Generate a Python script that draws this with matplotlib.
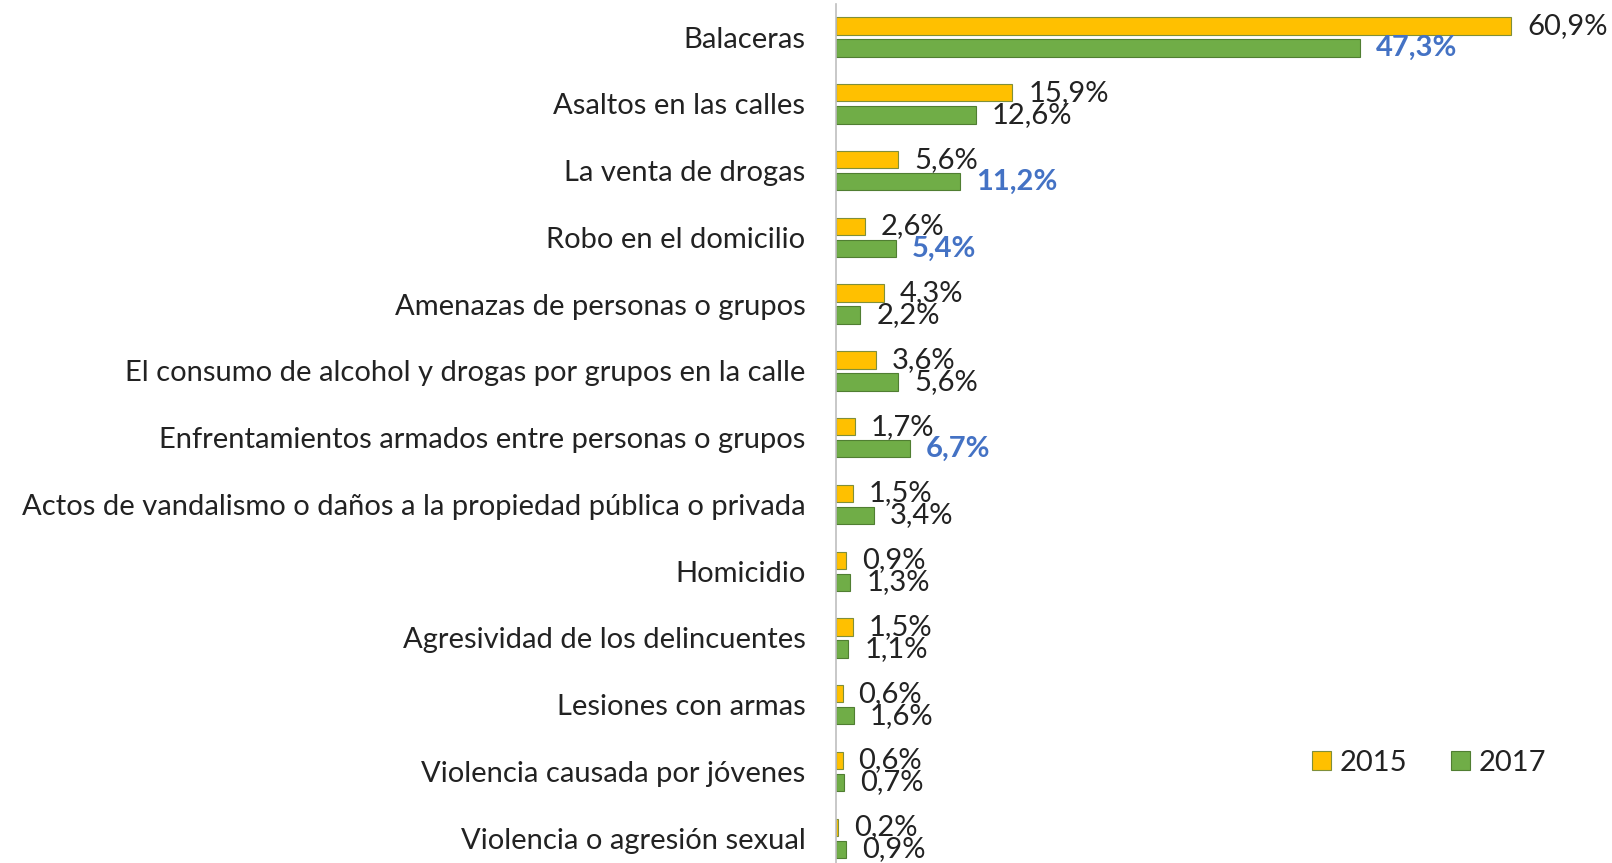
import matplotlib
matplotlib.use("Agg")
import matplotlib.pyplot as plt
import numpy as np

categories = [
    "Balaceras",
    "Asaltos en las calles",
    "La venta de drogas",
    "Robo en el domicilio",
    "Amenazas de personas o grupos",
    "El consumo de alcohol y drogas por grupos en la calle",
    "Enfrentamientos armados entre personas o grupos",
    "Actos de vandalismo o daños a la propiedad pública o privada",
    "Homicidio",
    "Agresividad de los delincuentes",
    "Lesiones con armas",
    "Violencia causada por jóvenes",
    "Violencia o agresión sexual",
]
v2015 = [60.9, 15.9, 5.6, 2.6, 4.3, 3.6, 1.7, 1.5, 0.9, 1.5, 0.6, 0.6, 0.2]
v2017 = [47.3, 12.6, 11.2, 5.4, 2.2, 5.6, 6.7, 3.4, 1.3, 1.1, 1.6, 0.7, 0.9]
highlight_2017 = [True, False, True, True, False, False, True, False, False, False, False, False, False]

plt.rcParams['font.family'] = ['Lato', 'DejaVu Sans']

fig = plt.figure(figsize=(16.12, 8.63), dpi=100)
ax = fig.add_axes([836/1612, 0, 776/1612, 1 - 4/863])

y = np.arange(len(categories))
off = 0.165
h = 0.26
yellow = '#FFC000'
green = '#70AD47'
ax.barh(y - off, v2015, height=h, color=yellow, edgecolor='#7f8f3a', linewidth=0.8, label='2015')
ax.barh(y + off, v2017, height=h, color=green, edgecolor='#507E32', linewidth=0.8, label='2017')

fs = 21
txtc = '#222222'
def fmt(v):
    return f"{v:.1f}%".replace('.', ',')

for i, v in enumerate(v2015):
    ax.annotate(fmt(v), (v, i - off), xytext=(11.5, 0),
                textcoords='offset points', va='center', ha='left', fontsize=fs,
                color=txtc)
for i, v in enumerate(v2017):
    if highlight_2017[i]:
        ax.annotate(fmt(v), (v, i + off), xytext=(11.5, 0),
                    textcoords='offset points', va='center', ha='left', fontsize=fs,
                    color='#4472C4', fontweight='bold')
    else:
        ax.annotate(fmt(v), (v, i + off), xytext=(11.5, 0),
                    textcoords='offset points', va='center', ha='left', fontsize=fs,
                    color=txtc)

ax.set_xlim(0, 70)
ax.set_ylim(12.37, -0.495)
ax.set_yticks(y)
ax.set_yticklabels(categories, fontsize=fs, color=txtc)
ax.tick_params(axis='y', length=0, pad=22)
ax.set_xticks([])
for s in ['top', 'right', 'bottom']:
    ax.spines[s].set_visible(False)
ax.spines['left'].set_color('#bfbfbf')
ax.spines['left'].set_linewidth(1.2)

leg = ax.legend(loc='center', bbox_to_anchor=((1429-836)/776, 1 - (763-4)/859), ncol=2,
                frameon=False, fontsize=fs, handlelength=0.65, handleheight=0.65,
                columnspacing=1.5, handletextpad=0.3, labelcolor=txtc)

fig.savefig('out.png', dpi=100)
